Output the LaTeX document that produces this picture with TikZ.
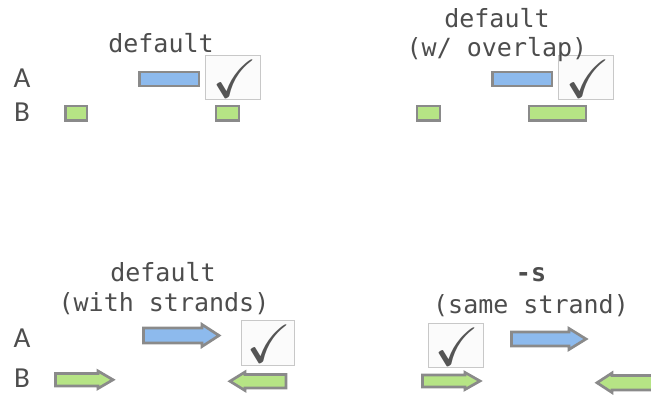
\documentclass[tikz,border=0pt]{standalone}
\usepackage{amssymb}
\usepackage{fontspec}
\newfontfamily\monof{DejaVu Sans Mono}
\newfontfamily\labf{Carlito}
\definecolor{featblue}{HTML}{8DBAED}
\definecolor{featgreen}{HTML}{B6E485}
\definecolor{featline}{HTML}{8A8A8A}
\definecolor{boxline}{HTML}{C8C8C8}
\definecolor{boxfill}{HTML}{FBFBFB}
\definecolor{txtgray}{HTML}{4D4D4D}
\definecolor{chkgray}{HTML}{555555}
\newcommand\rarr[7]{\draw[#7] (#1,#3) -- ({#2-#5},#3) -- ({#2-#5},{#3-#6}) -- (#2,{(#3+#4)/2}) -- ({#2-#5},{#4+#6}) -- ({#2-#5},#4) -- (#1,#4) -- cycle;}
\newcommand\larr[7]{\draw[#7] (#2,#3) -- ({#1+#5},#3) -- ({#1+#5},{#3-#6}) -- (#1,{(#3+#4)/2}) -- ({#1+#5},{#4+#6}) -- ({#1+#5},#4) -- (#2,#4) -- cycle;}
\tikzset{
  feat/.style={draw=featline, line width=2.7pt, line join=miter},
  bluefeat/.style={feat, fill=featblue},
  greenfeat/.style={feat, fill=featgreen},
  ttl/.style={font=\monof\fontsize{25}{27}\selectfont, text=txtgray, inner sep=0pt},
  lab/.style={font=\labf\fontsize{29}{30}\selectfont, text=txtgray, inner sep=0pt},
  chkbox/.style={draw=boxline, fill=boxfill, line width=0.9pt},
  chk/.style={font=\fontsize{54}{54}\selectfont, text=chkgray, inner sep=0pt, text height=32pt, text depth=0pt},
}
\begin{document}
\begin{tikzpicture}[x=1pt,y=-1pt]
\useasboundingbox (0,0) rectangle (651,394);
% ---------- top left ----------
\node[ttl] (t1) at (161,43) {default};
\node[lab] (a1) at (22,78) {A};
\node[lab] (b1) at (22,112) {B};
\draw[bluefeat] (139.5,72) rectangle (199,86);
\draw[chkbox] (205.5,55.5) rectangle (260,99);
\node[chk] (c1) at (235,81.5) {$\checkmark$};
\draw[greenfeat] (65.5,106) rectangle (87,120.5);
\draw[greenfeat] (216,106) rectangle (239,120.5);
% ---------- top right ----------
\draw[chkbox] (558.5,55.5) rectangle (613,99);
\node[chk] (c2) at (588,81.5) {$\checkmark$};
\node[ttl] (t2a) at (497,18.5) {default};
\node[ttl] (t2b) at (497,50) {(w/ overlap)};
\draw[bluefeat] (492.5,72) rectangle (552,86);
\draw[greenfeat] (417,106) rectangle (440,120.5);
\draw[greenfeat] (529,106) rectangle (586,120.5);
% ---------- bottom left ----------
\node[ttl] (t3a) at (163,272) {default};
\node[ttl] (t3b) at (164,304) {(with strands)};
\node[lab] (a3) at (22,338) {A};
\node[lab] (b3) at (22,378) {B};
\rarr{143.5}{219}{328}{343}{17}{3.5}{bluefeat}
\draw[chkbox] (241.5,320.5) rectangle (294,365);
\node[chk] (c3) at (269,346) {$\checkmark$};
\rarr{55.5}{113}{373.5}{386}{15}{2.5}{greenfeat}
\larr{230}{286}{374.5}{388}{15}{2.5}{greenfeat}
% ---------- bottom right ----------
\node[ttl, font=\monof\bfseries\fontsize{25}{27}\selectfont] (t4a) at (531,275) {-s};
\node[ttl] (t4b) at (531,306) {(same strand)};
\draw[chkbox] (428.5,323.5) rectangle (483.5,367);
\node[chk] (c4) at (457,349) {$\checkmark$};
\rarr{511.5}{586}{332}{346}{17}{3.5}{bluefeat}
\rarr{422.5}{480}{375}{387}{15}{2.5}{greenfeat}
\larr{597}{680}{375.5}{390}{15}{2.5}{greenfeat}
\end{tikzpicture}
\end{document}
